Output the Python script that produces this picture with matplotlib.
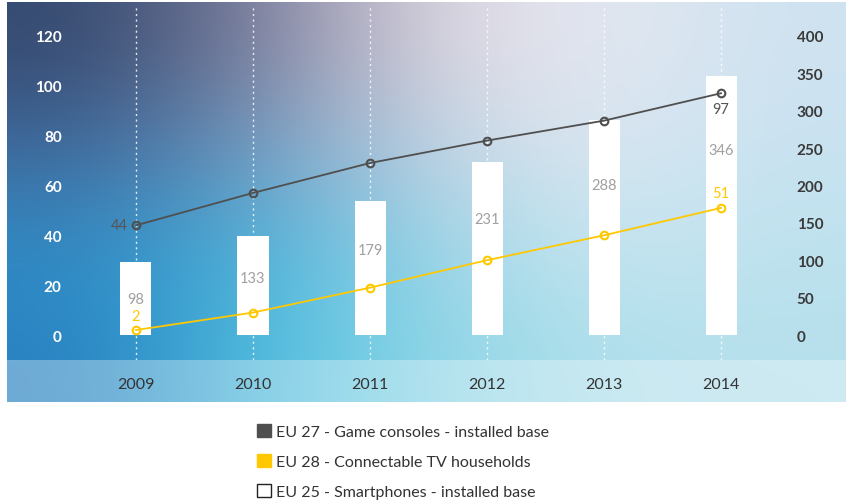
import numpy as np
import matplotlib
matplotlib.use("Agg")
from matplotlib import pyplot as plt
from matplotlib.colors import to_rgb
from matplotlib.patches import Patch, Rectangle

plt.rcParams['font.family'] = ['Lato', 'DejaVu Sans']

years = ['2009', '2010', '2011', '2012', '2013', '2014']
game_consoles = [44, 57, 69, 78, 86, 97]
connectable_tv = [2, 9, 19, 30, 40, 51]
smartphones = [98, 133, 179, 231, 288, 346]

left_ticks = [0, 20, 40, 60, 80, 100, 120]
right_ticks = [0, 50, 100, 150, 200, 250, 300, 350, 400]

GRAY = '#4f4f4f'
YELLOW = '#ffc800'
LABEL_GRAY = '#a0a0a0'

# background colours, rows top -> bottom, columns left -> right
bg_rows = [
    ['#34496f', '#7e7f9e', '#dcd5df', '#e6e9f2', '#cfe2f0'],
    ['#3f6a9e', '#6f9cc4', '#c0d4e4', '#dce8f2', '#c8e2f0'],
    ['#2f8cc6', '#4ab4dc', '#9ad4e6', '#c8e6f0', '#bde2ee'],
    ['#2880c0', '#4cc0e0', '#8ed6e6', '#b0e0ec', '#b6e0ec'],
]

W, H = 846, 502
fig = plt.figure(figsize=(W / 100, H / 100), dpi=100)

# gradient panel
bg = fig.add_axes([7 / W, (H - 403) / H, (W - 7) / W, 400 / H])
grad = np.array([[to_rgb(c) for c in row] for row in bg_rows])
bg.imshow(grad, extent=[0, 1, 0, 1], aspect='auto', interpolation='bicubic')
bg.add_patch(Rectangle((0, 0), 1, 42 / 400, color='white', alpha=0.32, lw=0))
bg.set_xlim(0, 1)
bg.set_ylim(0, 1)
bg.axis('off')

rect = [70 / W, (H - 361) / H, 710 / W, 353 / H]
ax2 = fig.add_axes(rect)
ax = fig.add_axes(rect, sharex=ax2)
ax.patch.set_visible(False)
ax2.patch.set_visible(False)

x = np.arange(len(years))
ylo, yhi = -10.03, 131.6

for xi in x:
    ax2.axvline(xi, color='white', lw=1, ls=(0, (1.5, 2.5)), alpha=0.85, zorder=0)

ax2.bar(x, smartphones, width=0.265, color='white', zorder=1)
for xi, v in zip(x, smartphones):
    ax2.text(xi, 0.8 * v - 30, str(v), ha='center', va='center',
             color=LABEL_GRAY, fontsize=10.5)

ax.plot(x, game_consoles, color=GRAY, lw=1.3, marker='o', ms=5.5,
        mfc='none', mew=1.5, zorder=3)
ax.plot(x, connectable_tv, color=YELLOW, lw=1.3, marker='o', ms=5.5,
        mfc='none', mew=1.5, zorder=3)

ax.annotate(str(game_consoles[0]), (x[0], game_consoles[0]), xytext=(-6, 0),
            textcoords='offset points', ha='right', va='center',
            color='#555555', fontsize=10.5)
ax.annotate(str(game_consoles[-1]), (x[-1], game_consoles[-1]), xytext=(0, -11),
            textcoords='offset points', ha='center', va='center',
            color='#555555', fontsize=10.5)
ax.annotate(str(connectable_tv[0]), (x[0], connectable_tv[0]), xytext=(0, 10),
            textcoords='offset points', ha='center', va='center',
            color=YELLOW, fontsize=10.5)
ax.annotate(str(connectable_tv[-1]), (x[-1], connectable_tv[-1]), xytext=(0, 11),
            textcoords='offset points', ha='center', va='center',
            color=YELLOW, fontsize=10.5)

ax.set_xlim(-0.564, 5.504)
ax.set_ylim(ylo, yhi)
ax2.set_ylim(ylo * 10 / 3, yhi * 10 / 3)

ax.set_yticks(left_ticks)
ax.tick_params(axis='y', length=0, pad=6, labelcolor='white', labelsize=11)
for t in ax.get_yticklabels():
    t.set_fontweight('bold')

ax2.yaxis.tick_right()
ax2.set_yticks(right_ticks)
ax2.tick_params(axis='y', length=0, pad=12, labelcolor='#3a3a3a', labelsize=11)
for t in ax2.get_yticklabels():
    t.set_fontweight('bold')
    t.set_ha('left')

ax.set_xticks(x)
ax.set_xticklabels(years)
ax.tick_params(axis='x', length=0, pad=12, labelcolor='#333333', labelsize=11.5)
ax2.tick_params(axis='x', labelbottom=False, length=0)

for a in (ax, ax2):
    for s in a.spines.values():
        s.set_visible(False)

handles = [
    Patch(facecolor=GRAY, edgecolor=GRAY),
    Patch(facecolor=YELLOW, edgecolor=YELLOW),
    Patch(facecolor='white', edgecolor='#222222', lw=1),
]
labels = [
    'EU 27 - Game consoles - installed base',
    'EU 28 - Connectable TV households',
    'EU 25 - Smartphones - installed base',
]
leg = fig.legend(handles, labels, loc='upper left',
                 bbox_to_anchor=(257 / W, (H - 425) / H), frameon=False,
                 handlelength=0.9, handleheight=0.9, handletextpad=0.3,
                 labelspacing=0.92, fontsize=11.5, borderaxespad=0,
                 borderpad=0)
for t in leg.get_texts():
    t.set_color('#333333')

fig.savefig('out.png', dpi=100, facecolor='white')
